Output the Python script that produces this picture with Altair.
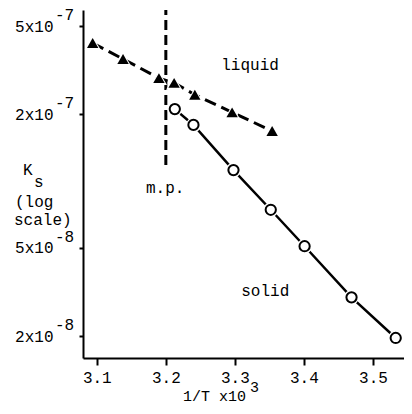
import altair as alt
import pandas as pd

# ---- data ----
liq_x = [3.094, 3.138, 3.190, 3.212, 3.242, 3.296, 3.354]
liq_y = [4.19e-7, 3.55e-7, 2.91e-7, 2.77e-7, 2.45e-7, 2.04e-7, 1.68e-7]
sol_x = [3.213, 3.240, 3.298, 3.352, 3.401, 3.469, 3.533]
sol_y = [2.11e-7, 1.79e-7, 1.12e-7, 7.42e-8, 5.08e-8, 2.99e-8, 1.96e-8]
x_ticks = [3.1, 3.2, 3.3, 3.4, 3.5]
y_ticks = [5e-7, 2e-7, 5e-8, 2e-8]
y_exp = ["-7", "-7", "-8", "-8"]
mp_x = [3.2, 3.2]
mp_y = [1.18e-7, 5.9e-7]
notes = ["liquid", "solid", "m.p."]
note_x = [3.322, 3.344, 3.199]
note_y = [3.33e-7, 3.19e-8, 9.3e-8]

FONT = "Liberation Mono"
FS = 16

liq = pd.DataFrame({"x": liq_x, "y": liq_y})
sol = pd.DataFrame({"x": sol_x, "y": sol_y})
mp = pd.DataFrame({"x": mp_x, "y": mp_y})
nt = pd.DataFrame({"x": note_x, "y": note_y, "t": notes})
ex = pd.DataFrame({"y": y_ticks, "e": y_exp})
one = pd.DataFrame({"a": [0]})

xs = alt.Scale(domain=[3.080, 3.545], nice=False, zero=False)
ys = alt.Scale(type="log", domain=[1.592e-8, 5.904e-7], nice=False)

xaxis = alt.Axis(values=x_ticks, format=".1f", grid=False, title=None,
                 domainWidth=2, domainColor="black", tickWidth=2, tickColor="black",
                 tickSize=7, labelFont=FONT, labelFontSize=FS, labelColor="black",
                 labelBaseline="middle", labelPadding=12, labelFlush=False)
yaxis = alt.Axis(values=y_ticks, grid=False, title=None,
                 labelExpr="substring(format(datum.value, '.0e'), 0, 1) + 'x10'",
                 domainWidth=2, domainColor="black", tickWidth=2, tickColor="black",
                 tickSize=4, labelFont=FONT, labelFontSize=FS, labelColor="black",
                 labelPadding=26, labelFlush=False)

X = lambda: alt.X("x:Q", scale=xs, axis=xaxis)
Y = lambda f="y": alt.Y(f"{f}:Q", scale=ys, axis=yaxis)

mp_line = alt.Chart(mp).mark_line(color="black", strokeWidth=3, strokeDash=[10, 5]).encode(
    x=X(), y=Y())
liq_line = alt.Chart(liq).mark_line(color="black", strokeWidth=3, strokeDash=[12, 6]).encode(
    x=X(), y=Y())
sol_line = alt.Chart(sol).mark_line(color="black", strokeWidth=2.5).encode(x=X(), y=Y())

liq_halo = alt.Chart(liq).mark_point(shape="triangle-up", filled=True, color="white",
                                     size=260, opacity=1).encode(x=X(), y=Y())
liq_pts = alt.Chart(liq).mark_point(shape="triangle-up", filled=True, color="black",
                                    size=130, opacity=1).encode(x=X(), y=Y())
sol_halo = alt.Chart(sol).mark_point(shape="circle", filled=True, color="white",
                                     size=220, opacity=1).encode(x=X(), y=Y())
sol_pts = alt.Chart(sol).mark_point(shape="circle", fill="white", stroke="black",
                                    strokeWidth=2, size=105, opacity=1).encode(x=X(), y=Y())

note_txt = alt.Chart(nt).mark_text(font=FONT, fontSize=FS, color="black").encode(
    x=X(), y=Y(), text="t:N")
exp_txt = alt.Chart(ex).mark_text(font=FONT, fontSize=FS, color="black", align="left",
                                  baseline="middle", dy=-11).encode(
    x=alt.value(-28), y=Y(), text="e:N")


def label(s, px, py, align="left", fs=FS):
    return alt.Chart(one).mark_text(font=FONT, fontSize=fs, color="black", align=align,
                                    baseline="middle").encode(
        x=alt.value(px), y=alt.value(py), text=alt.value(s))


titles = [
    label("K", -60, 160),
    label("s", -49, 172),
    label("(log", -68, 192),
    label("scale)", -69, 210),
    label("1/T x10", 100, 386, fs=15),
    label("3", 167, 377, fs=15),
]

chart = alt.layer(mp_line, liq_line, sol_line, liq_halo, liq_pts, sol_halo, sol_pts,
                  note_txt, exp_txt, *titles).properties(
    width=321, height=348,
    autosize=alt.AutoSizeParams(type="none"),
    padding={"left": 75, "top": 2, "right": 0, "bottom": 48},
    background="white",
).configure_view(stroke=None)

chart.save("out.html", embed_options={"renderer": "svg", "actions": False})
